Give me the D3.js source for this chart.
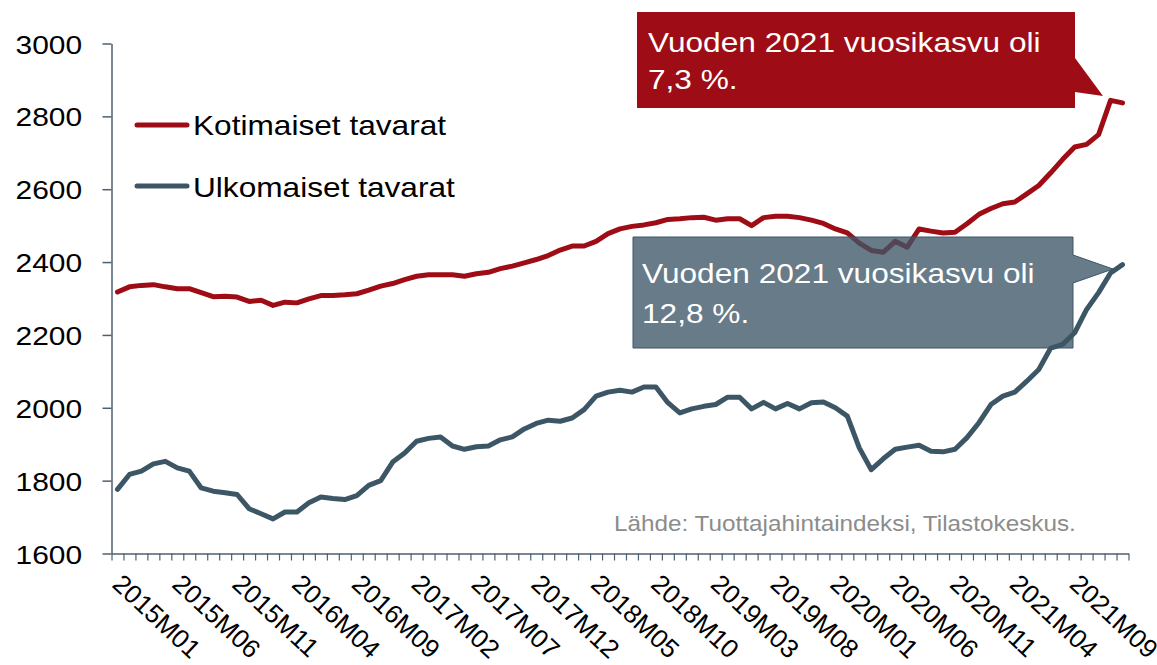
<!DOCTYPE html>
<html>
<head>
<meta charset="utf-8">
<script src="https://cdn.jsdelivr.net/npm/d3@7"></script>
<style>
  html,body{margin:0;padding:0;background:#fff;}
  svg{display:block;font-family:"Liberation Sans",Arial,sans-serif;}
</style>
</head>
<body>
<svg id="chart" width="1157" height="665"></svg>
<script>
// ---- data ----
const years = [2015, 2016, 2017, 2018, 2019, 2020, 2021, 2022];
const months = [];
years.forEach(yr => { for (let m = 1; m <= 12; m++) { if (months.length < 85) months.push(yr + "M" + String(m).padStart(2, "0")); } });

const tickLabels = ["2015M01","2015M06","2015M11","2016M04","2016M09","2017M02","2017M07","2017M12",
  "2018M05","2018M10","2019M03","2019M08","2020M01","2020M06","2020M11","2021M04","2021M09"];
const yTicks = [1600, 1800, 2000, 2200, 2400, 2600, 2800, 3000];

const seriesNames = ["Kotimaiset tavarat", "Ulkomaiset tavarat"];
const kotimaiset = [2318,2332,2336,2338,2332,2327,2327,2316,2305,2306,2304,2292,2295,2281,2290,2288,2299,2308,2308,2310,
  2313,2323,2334,2341,2352,2361,2365,2365,2365,2361,2368,2372,2382,2389,2398,2407,2418,2433,2444,2444,
  2457,2478,2491,2498,2502,2508,2517,2519,2522,2523,2515,2519,2519,2500,2522,2526,2526,2522,2515,2506,
  2491,2480,2452,2432,2427,2457,2441,2491,2485,2480,2482,2505,2531,2547,2560,2565,2587,2610,2645,2682,
  2716,2723,2750,2844,2837];
const ulkomaiset = [1776,1817,1826,1846,1853,1835,1826,1780,1771,1767,1762,1723,1709,1695,1714,1714,1739,1755,1751,1748,
  1759,1787,1800,1851,1876,1908,1916,1920,1895,1886,1893,1895,1912,1920,1942,1957,1966,1963,1972,1995,
  2032,2043,2048,2043,2057,2057,2014,1986,1997,2004,2009,2029,2029,1997,2015,1997,2012,1997,2014,2016,
  2000,1977,1890,1830,1860,1886,1892,1897,1881,1879,1886,1918,1959,2009,2032,2043,2073,2105,2164,2174,
  2206,2270,2316,2370,2393];
const calloutTexts = [["Vuoden 2021 vuosikasvu oli", "7,3 %."], ["Vuoden 2021 vuosikasvu oli", "12,8 %."]];
const sourceText = "Lähde: Tuottajahintaindeksi, Tilastokeskus.";

// ---- styles ----
const RED = "#9e0d15", BLUE = "#3d5666", AXIS = "#4d6070";
const SX = 1.13; // horizontal stretch of text in the original

const svg = d3.select("#chart");

const x = d3.scaleBand().domain(months).range([111.5, 1128.5]).padding(0);
const xEdge = d3.scaleLinear().domain([0, months.length]).range([111.5, 1128.5]);
const y = d3.scaleLinear().domain([1600, 3000]).range([553.5, 43.5]);
const cx = i => x(months[i]) + x.bandwidth() / 2;

// y axis
const yAxis = svg.append("g").attr("transform", "translate(111.5,0)")
  .call(d3.axisLeft(y).tickValues(yTicks).tickSize(9).tickSizeOuter(0).tickPadding(17).tickFormat(d3.format("d")));
yAxis.select(".domain").attr("stroke", AXIS).attr("stroke-width", 1.5);
yAxis.selectAll(".tick line").attr("stroke", AXIS).attr("stroke-width", 1.5);
yAxis.selectAll(".tick text")
  .attr("fill", "#000").attr("font-size", 26.5).attr("dy", "0.36em")
  .attr("transform", `scale(${SX},1)`)
  .attr("x", -26);

// x axis
const xAxis = svg.append("g").attr("transform", "translate(0,553.5)")
  .call(d3.axisBottom(xEdge).tickValues(d3.range(months.length + 1)).tickSize(7).tickSizeOuter(0).tickFormat(""));
xAxis.select(".domain").attr("stroke", AXIS).attr("stroke-width", 1.5);
xAxis.selectAll(".tick line").attr("stroke", AXIS).attr("stroke-width", 1.2);

svg.append("g").selectAll("text").data(tickLabels).join("text")
  .attr("transform", d => `translate(${cx(months.indexOf(d)) - 6.5},586) rotate(43)`)
  .attr("font-size", 26).attr("fill", "#000").attr("text-anchor", "start")
  .text(d => d);

// lines
const line = d3.line().x((d, i) => cx(i)).y(d => y(d));
[[kotimaiset, RED], [ulkomaiset, BLUE]].forEach(([vals, col]) => {
  svg.append("path").datum(vals).attr("d", line)
    .attr("fill", "none").attr("stroke", col).attr("stroke-width", 5)
    .attr("stroke-linejoin", "round").attr("stroke-linecap", "round");
});

// helper for stretched text
function stext(px, py, str, size, fill, anchor) {
  return svg.append("text")
    .attr("transform", `translate(${px},${py}) scale(${SX},1)`)
    .attr("font-size", size).attr("fill", fill).attr("text-anchor", anchor || "start")
    .text(str);
}

// grey callout (semi-transparent over lines)
svg.append("path")
  .attr("d", "M633,237 H1073 V255 L1113,269 L1073,283 V348 H633 Z")
  .attr("fill", BLUE).attr("fill-opacity", 0.78)
  .attr("stroke", BLUE).attr("stroke-width", 1);
stext(642, 283, calloutTexts[1][0], 28, "#fff");
stext(642, 323, calloutTexts[1][1], 28, "#fff");

// red callout
svg.append("path")
  .attr("d", "M637,12 H1075 V58 L1103,96 L1075,92 V108 H637 Z")
  .attr("fill", RED);
stext(648, 52, calloutTexts[0][0], 28, "#fff");
stext(648, 89, calloutTexts[0][1], 28, "#fff");

// legend
[[RED, 125, 135], [BLUE, 186, 197]].forEach(([col, ly, ty], i) => {
  svg.append("line").attr("x1", 137).attr("x2", 187).attr("y1", ly).attr("y2", ly)
    .attr("stroke", col).attr("stroke-width", 5).attr("stroke-linecap", "round");
  stext(193, ty, seriesNames[i], 28, "#000");
});

// source
stext(614, 531, sourceText, 21.5, "#8c8c8c");
</script>
</body>
</html>
